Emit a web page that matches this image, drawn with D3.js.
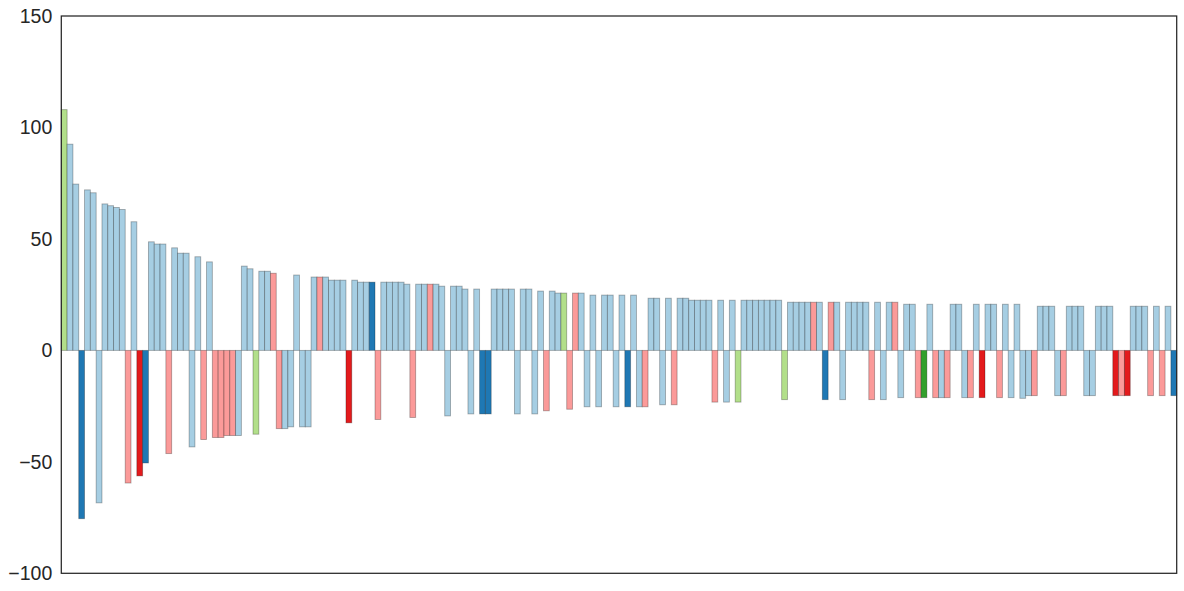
<!DOCTYPE html>
<html>
<head>
<meta charset="utf-8">
<script src="https://cdn.jsdelivr.net/npm/d3@7"></script>
<style>
  html, body { margin: 0; padding: 0; background: #fff; }
  svg { display: block; }
</style>
</head>
<body>
<svg id="chart" width="1184" height="591"></svg>
<script>
// ---- data ----
const values = [
  108, 92.5, 74.6, -75.5, 72, 70.7, -68.4, 65.7, 64.9, 64.1,
  63.2, -59.5, 57.7, -56.3, -50.5, 48.7, 47.7, 47.7, -46.3, 46.0,
  43.6, 43.6, -43.3, 42.0, -40, 39.7, -39.1, -39.1, -38.2, -38.2,
  -38.2, 37.8, 36.6, -37.6, 35.5, 35.5, 34.6, -35.1, -35.1, -34.3,
  33.8, -34.3, -34.3, 32.9, 32.9, 32.9, 31.5, 31.5, 31.5, -32.5,
  31.5, 30.6, 30.6, 30.6, -31.0, 30.6, 30.6, 30.6, 30.6, 29.7,
  -30.1, 29.7, 29.7, 29.7, 29.7, 28.8, -29.4, 28.8, 28.8, 27.5,
  -28.5, 27.5, -28.5, -28.5, 27.5, 27.5, 27.5, 27.5, -28.5, 27.5,
  27.5, -28.5, 26.6, -27.1, 26.6, 25.7, 25.7, -26.4, 25.7, 25.7,
  -25.3, 24.8, -25.3, 24.8, 24.8, -25.3, 24.8, -25.3, 24.8, -25.3,
  -25.3, 23.4, 23.4, -24.4, 23.4, -24.4, 23.4, 23.4, 22.5, 22.5,
  22.5, 22.5, -23.2, 22.5, -23.2, 22.5, -23.2, 22.5, 22.5, 22.5,
  22.5, 22.5, 22.5, 22.5, -22.1, 21.6, 21.6, 21.6, 21.6, 21.6,
  21.6, -22.1, 21.6, 21.6, -22.1, 21.6, 21.6, 21.6, 21.6, -22.1,
  21.6, -22.1, 21.6, 21.6, -21.2, 20.7, 20.7, -21.2, -21.2, 20.7,
  -21.2, -21.2, -21.2, 20.7, 20.7, -21.2, -21.2, 20.7, -21.2, 20.7,
  20.7, -21.2, 20.7, -21.2, 20.7, -21.5, -20.3, -20.3, 19.8, 19.8,
  19.8, -20.3, -20.3, 19.8, 19.8, 19.8, -20.3, -20.3, 19.8, 19.8,
  19.8, -20.3, -20.3, -20.3, 19.8, 19.8, 19.8, -20.3, 19.8, -20.3,
  19.8, -20.3
];
const groups = [
  "lg","lb","lb","db","lb","lb","lb","lb","lb","lb",
  "lb","pk","lb","rd","db","lb","lb","lb","pk","lb",
  "lb","lb","lb","lb","pk","lb","pk","pk","pk","pk",
  "lb","lb","lb","lg","lb","lb","pk","pk","lb","lb",
  "lb","lb","lb","lb","pk","lb","lb","lb","lb","rd",
  "lb","lb","lb","db","pk","lb","lb","lb","lb","lb",
  "pk","lb","lb","pk","lb","lb","lb","lb","lb","lb",
  "lb","lb","db","db","lb","lb","lb","lb","lb","lb",
  "lb","lb","lb","pk","lb","lb","lg","pk","pk","lb",
  "lb","lb","lb","lb","lb","lb","lb","db","lb","lb",
  "pk","lb","lb","lb","lb","pk","lb","lb","lb","lb",
  "lb","lb","pk","lb","lb","lb","lg","lb","lb","lb",
  "lb","lb","lb","lb","lg","lb","lb","lb","lb","pk",
  "lb","db","pk","lb","lb","lb","lb","lb","lb","pk",
  "lb","lb","lb","pk","lb","lb","lb","pk","dg","lb",
  "pk","lb","pk","lb","lb","lb","pk","lb","rd","lb",
  "lb","pk","lb","lb","lb","lb","lb","pk","lb","lb",
  "lb","lb","pk","lb","lb","lb","lb","lb","lb","lb",
  "lb","rd","pk","rd","lb","lb","lb","pk","lb","pk",
  "lb","db"
];
const yTicks = [-100, -50, 0, 50, 100, 150];
const yDomain = [-100, 150];
const groupKeys = ["lb", "db", "lg", "dg", "pk", "rd"];
const groupColors = ["#a6cee3", "#1f78b4", "#b2df8a", "#33a02c", "#fb9a99", "#e31a1c"];

// ---- layout ----
const plotLeft = 61.3, plotRight = 1176.7, plotTop = 16, plotBottom = 573.3;
const svg = d3.select("#chart");

const x = d3.scaleBand()
  .domain(d3.range(values.length))
  .range([plotLeft, plotRight])
  .paddingInner(0).paddingOuter(0);

const y = d3.scaleLinear().domain(yDomain).range([plotBottom, plotTop]);

const color = d3.scaleOrdinal().domain(groupKeys).range(groupColors);

const data = values.map((v, i) => ({ i, v, g: groups[i] }));

svg.append("g")
  .selectAll("rect")
  .data(data)
  .join("rect")
  .attr("x", d => x(d.i))
  .attr("width", x.bandwidth())
  .attr("y", d => y(Math.max(0, d.v)))
  .attr("height", d => Math.abs(y(d.v) - y(0)))
  .attr("fill", d => color(d.g))
  .attr("stroke", "#000")
  .attr("stroke-opacity", 0.3)
  .attr("stroke-width", 0.9);

// y axis labels (no tick marks)
const yAxis = d3.axisLeft(y)
  .tickValues(yTicks)
  .tickSize(0)
  .tickPadding(9)
  .tickFormat(d => d < 0 ? "\u2212" + Math.abs(d) : String(d));

const ga = svg.append("g")
  .attr("transform", `translate(${plotLeft},0)`)
  .call(yAxis);
ga.select(".domain").remove();
ga.selectAll("text")
  .attr("font-family", "'Liberation Sans', Arial, sans-serif")
  .attr("font-size", "19.5px")
  .attr("fill", "#262626");

// frame
svg.append("rect")
  .attr("x", plotLeft)
  .attr("y", plotTop)
  .attr("width", plotRight - plotLeft)
  .attr("height", plotBottom - plotTop)
  .attr("fill", "none")
  .attr("stroke", "#262626")
  .attr("stroke-width", 1.25);
</script>
</body>
</html>
